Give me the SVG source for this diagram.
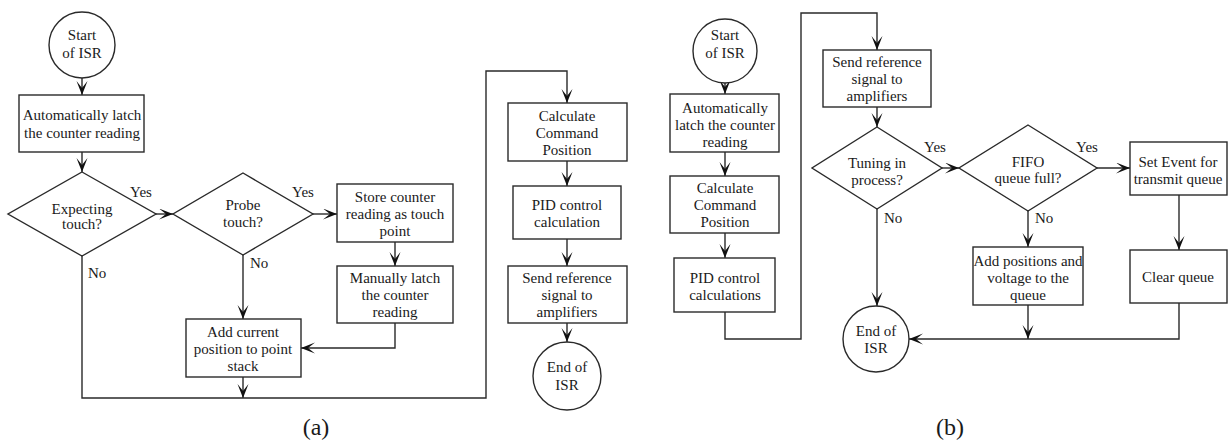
<svg xmlns="http://www.w3.org/2000/svg" width="1229" height="447" viewBox="0 0 1229 447">
<defs>
<marker id="arr" markerUnits="userSpaceOnUse" markerWidth="16" markerHeight="14" refX="14" refY="5.5" orient="auto">
<path d="M0,0 L14,5.5 L0,11 L7,5.5 Z" fill="#111"/>
</marker>
<style>
.n{fill:#fff;stroke:#2a2a2a;stroke-width:1.4}
.a{fill:none;stroke:#2a2a2a;stroke-width:1.4;marker-end:url(#arr)}
text{font-family:"Liberation Serif","Times New Roman",serif;font-size:15px;fill:#1a1a1a}
.m{text-anchor:middle}
.cap{font-size:24px}
</style>
</defs>
<rect width="1229" height="447" fill="#fff"/>

<g id="connectors">
<!-- panel a -->
<path class="a" d="M82,77 V95"/>
<path class="a" d="M82,152 V172"/>
<path class="a" d="M156,214 H173"/>
<path class="a" d="M313,214 H337"/>
<path class="a" d="M395,242 V266"/>
<path class="a" d="M395,323 V348 H301"/>
<path class="a" d="M243,255 V319"/>
<path class="a" d="M243,377 V398"/>
<path class="a" d="M82,256 V398 H486 V71 H567 V103"/>
<path class="a" d="M567,161 V186"/>
<path class="a" d="M567,239 V266"/>
<path class="a" d="M567,323 V342"/>
<!-- panel b -->
<path class="a" d="M725,83 V94"/>
<path class="a" d="M725,152 V176"/>
<path class="a" d="M725,233 V258"/>
<path class="a" d="M725,312 V339 H801 V13 H877 V50"/>
<path class="a" d="M877,107 V127"/>
<path class="a" d="M942,168 H959"/>
<path class="a" d="M1097,168 H1130"/>
<path class="a" d="M1179,195 V250"/>
<path class="a" d="M1179,303 V339 H909"/>
<path class="a" d="M877,209 V306"/>
<path class="a" d="M1028,211 V247"/>
<path class="a" d="M1028,305 V339"/>
</g>

<g id="labels">
<text class="m" x="141" y="197">Yes</text>
<text class="m" x="303" y="197">Yes</text>
<text x="88" y="278">No</text>
<text x="250" y="268">No</text>
<text class="m" x="935" y="152">Yes</text>
<text class="m" x="1087" y="152">Yes</text>
<text x="884" y="223">No</text>
<text x="1035" y="223">No</text>
<text class="m cap" x="316" y="435">(a)</text>
<text class="m cap" x="950" y="435">(b)</text>
</g>

<!-- panel a nodes -->
<g id="a_start">
<circle class="n" cx="82" cy="45" r="33"/>
<text class="m" x="82" y="40">Start</text>
<text class="m" x="82" y="58">of ISR</text>
</g>
<g id="a_latch">
<rect class="n" x="19" y="95" width="125" height="57"/>
<text class="m" x="82" y="120">Automatically latch</text>
<text class="m" x="82" y="138">the counter reading</text>
</g>
<g id="a_expect">
<polygon class="n" points="82,172 156,214 82,256 8,214"/>
<text class="m" x="82" y="214">Expecting</text>
<text class="m" x="82" y="229">touch?</text>
</g>
<g id="a_probe">
<polygon class="n" points="243,173 313,214 243,255 173,214"/>
<text class="m" x="243" y="210">Probe</text>
<text class="m" x="243" y="227">touch?</text>
</g>
<g id="a_store">
<rect class="n" x="337" y="184" width="116" height="58"/>
<text class="m" x="395" y="202">Store counter</text>
<text class="m" x="395" y="219">reading as touch</text>
<text class="m" x="395" y="236">point</text>
</g>
<g id="a_manual">
<rect class="n" x="337" y="266" width="116" height="57"/>
<text class="m" x="395" y="283">Manually latch</text>
<text class="m" x="395" y="300">the counter</text>
<text class="m" x="395" y="317">reading</text>
</g>
<g id="a_add">
<rect class="n" x="186" y="319" width="115" height="58"/>
<text class="m" x="243" y="337">Add current</text>
<text class="m" x="243" y="354">position to point</text>
<text class="m" x="243" y="371">stack</text>
</g>
<g id="a_calc">
<rect class="n" x="508" y="103" width="119" height="58"/>
<text class="m" x="567" y="121">Calculate</text>
<text class="m" x="567" y="138">Command</text>
<text class="m" x="567" y="155">Position</text>
</g>
<g id="a_pid">
<rect class="n" x="513" y="186" width="108" height="53"/>
<text class="m" x="567" y="210">PID control</text>
<text class="m" x="567" y="227">calculation</text>
</g>
<g id="a_send">
<rect class="n" x="508" y="266" width="119" height="57"/>
<text class="m" x="567" y="283">Send reference</text>
<text class="m" x="567" y="300">signal to</text>
<text class="m" x="567" y="317">amplifiers</text>
</g>
<g id="a_end">
<circle class="n" cx="567" cy="376" r="34"/>
<text class="m" x="567" y="372">End of</text>
<text class="m" x="567" y="390">ISR</text>
</g>

<!-- panel b nodes -->
<g id="b_start">
<circle class="n" cx="725" cy="51" r="32"/>
<text class="m" x="725" y="40">Start</text>
<text class="m" x="725" y="58">of ISR</text>
</g>
<g id="b_latch">
<rect class="n" x="670" y="94" width="109" height="58"/>
<text class="m" x="725" y="113">Automatically</text>
<text class="m" x="725" y="130">latch the counter</text>
<text class="m" x="725" y="147">reading</text>
</g>
<g id="b_calc">
<rect class="n" x="670" y="176" width="109" height="57"/>
<text class="m" x="725" y="193">Calculate</text>
<text class="m" x="725" y="210">Command</text>
<text class="m" x="725" y="227">Position</text>
</g>
<g id="b_pid">
<rect class="n" x="674" y="258" width="101" height="54"/>
<text class="m" x="725" y="283">PID control</text>
<text class="m" x="725" y="300">calculations</text>
</g>
<g id="b_send">
<rect class="n" x="823" y="50" width="108" height="57"/>
<text class="m" x="877" y="67">Send reference</text>
<text class="m" x="877" y="84">signal to</text>
<text class="m" x="877" y="101">amplifiers</text>
</g>
<g id="b_tuning">
<polygon class="n" points="877,127 942,168 877,209 812,168"/>
<text class="m" x="877" y="168">Tuning in</text>
<text class="m" x="877" y="185">process?</text>
</g>
<g id="b_fifo">
<polygon class="n" points="1028,125 1097,168 1028,211 959,168"/>
<text class="m" x="1028" y="167">FIFO</text>
<text class="m" x="1028" y="183">queue full?</text>
</g>
<g id="b_event">
<rect class="n" x="1130" y="142" width="97" height="53"/>
<text class="m" x="1178" y="167">Set Event for</text>
<text class="m" x="1178" y="184">transmit queue</text>
</g>
<g id="b_clear">
<rect class="n" x="1130" y="250" width="97" height="53"/>
<text class="m" x="1178" y="282">Clear queue</text>
</g>
<g id="b_add">
<rect class="n" x="973" y="247" width="110" height="58"/>
<text class="m" x="1028" y="266">Add positions and</text>
<text class="m" x="1028" y="283">voltage to the</text>
<text class="m" x="1028" y="300">queue</text>
</g>
<g id="b_end">
<circle class="n" cx="876" cy="339" r="33"/>
<text class="m" x="876" y="336">End of</text>
<text class="m" x="876" y="353">ISR</text>
</g>
</svg>
